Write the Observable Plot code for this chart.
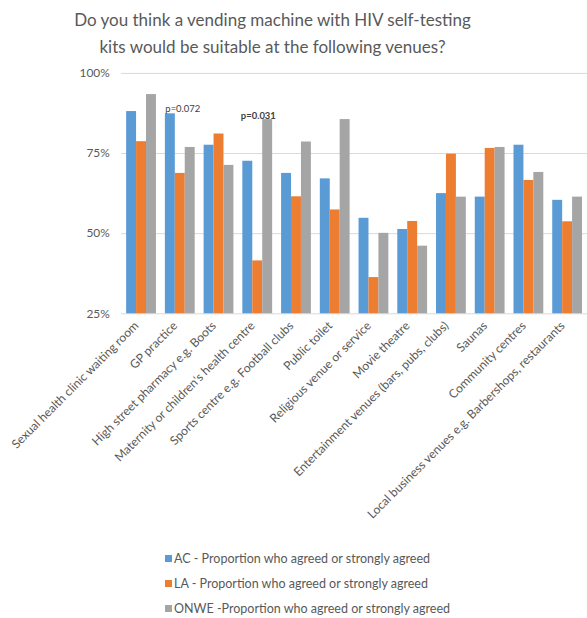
<!DOCTYPE html>
<html>
<head>
<meta charset="utf-8">
<script src="https://cdn.jsdelivr.net/npm/d3@7"></script>
<script src="https://cdn.jsdelivr.net/npm/@observablehq/plot@0.6"></script>
<style>
  html, body { margin: 0; padding: 0; background: #fff; overflow: hidden; width: 587px; }
  #title { width: 545px; height: 62px; text-align: center; font-family: Lato, sans-serif; font-size: 17px; line-height: 27px; color: #595959; padding-top: 6px; box-sizing: border-box; }
  #chart svg { display: block; overflow: visible; }
  #legend { font-family: Lato, sans-serif; font-size: 12.5px; color: #595959; padding-left: 165px; padding-top: 14px; }
  .row { height: 25px; line-height: 25px; display: flex; align-items: center; }
  .sw { width: 7px; height: 7px; margin-right: 2px; display: inline-block; }
</style>
</head>
<body>
<div id="title">Do you think a vending machine with HIV self-testing<br>kits would be suitable at the following venues?</div>
<div id="chart"></div>
<div id="legend"></div>
<script>
const venues = [
  "Sexual health clinic waiting room",
  "GP practice",
  "High street pharmacy e.g. Boots",
  "Maternity or children's health centre",
  "Sports centre e.g. Football clubs",
  "Public toilet",
  "Religious venue or service",
  "Movie theatre",
  "Entertainment venues (bars, pubs, clubs)",
  "Saunas",
  "Community centres",
  "Local business venues e.g. Barbershops, restaurants"
];
const acValues   = [88.1, 87.4, 77.6, 72.6, 68.8, 67.1, 54.8, 51.3, 62.5, 61.4, 77.6, 60.4];
const laValues   = [78.7, 68.8, 81.1, 41.5, 61.5, 57.4, 36.3, 53.8, 74.8, 76.6, 66.6, 53.7];
const onweValues = [93.4, 76.9, 71.3, 85.6, 78.6, 85.6, 50.1, 46.1, 61.4, 76.9, 69.1, 61.4];
const seriesNames = [
  "AC - Proportion who agreed or strongly agreed",
  "LA - Proportion who agreed or strongly agreed",
  "ONWE -Proportion who agreed or strongly agreed"
];
const seriesColors = ["#5B9BD5", "#ED7D31", "#A5A5A5"];
const yTicks = [25, 50, 75, 100];
const annotVenues = ["GP practice", "Maternity or children's health centre"];
const annotTexts  = ["p=0.072", "p=0.031"];
const annotY      = [87.4, 85.6];
const annotBold   = [false, true];

const rows = (vals, s) => venues.map((v, i) => ({venue: v, series: s, value: vals[i]}));
const acData = rows(acValues, seriesNames[0]);
const laData = rows(laValues, seriesNames[1]);
const onweData = rows(onweValues, seriesNames[2]);
const annots = annotVenues.map((v, i) => ({venue: v, text: annotTexts[i], y: annotY[i], bold: annotBold[i]}));

const chart = Plot.plot({
  width: 591,
  height: 473,
  marginLeft: 122,
  marginRight: 0,
  marginTop: 11,
  marginBottom: 220,
  style: {fontFamily: "Lato, sans-serif", color: "#595959", background: "transparent"},
  x: {domain: venues, paddingInner: 0.23, paddingOuter: 0.115, label: null},
  y: {domain: [25, 100], label: null},
  color: {domain: seriesNames, range: seriesColors},
  marks: [
    Plot.gridY(yTicks, {stroke: "#d9d9d9", strokeOpacity: 1, strokeWidth: 1}),
    Plot.axisY(yTicks, {tickSize: 0, tickPadding: 12, fontSize: 12, fill: "#595959", tickFormat: d => d + "%", label: null}),
    Plot.axisX({tickSize: 0, tickPadding: 10, tickRotate: -45, dx: -5, fontSize: 12.2, fill: "#595959", label: null}),
    Plot.barY(acData, {x: "venue", y1: 25, y2: "value", fill: "series", insetRight: 20}),
    Plot.barY(laData, {x: "venue", y1: 25, y2: "value", fill: "series", insetLeft: 10, insetRight: 10}),
    Plot.barY(onweData, {x: "venue", y1: 25, y2: "value", fill: "series", insetLeft: 20}),
    Plot.text(annots.filter(d => !d.bold), {x: "venue", y: "y", text: "text", textAnchor: "start", lineAnchor: "bottom", dx: -15, dy: -2, fontSize: 9.5, fill: "#404040"}),
    Plot.text(annots.filter(d => d.bold), {x: "venue", y: "y", text: "text", textAnchor: "start", lineAnchor: "bottom", dx: -17, dy: -1, fontSize: 9.5, fontWeight: "bold", fill: "#404040"})
  ]
});
document.getElementById("chart").appendChild(chart);

const legend = document.getElementById("legend");
seriesNames.forEach((name, i) => {
  const row = document.createElement("div");
  row.className = "row";
  const sw = document.createElement("span");
  sw.className = "sw";
  sw.style.background = seriesColors[i];
  row.appendChild(sw);
  row.appendChild(document.createTextNode(name));
  legend.appendChild(row);
});
</script>
</body>
</html>
